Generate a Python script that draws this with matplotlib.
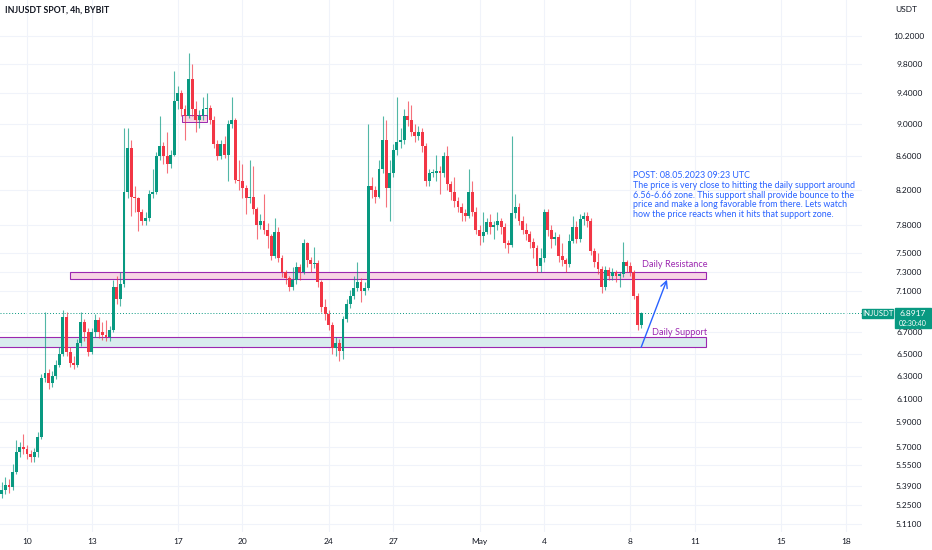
import numpy as np
import matplotlib
matplotlib.use("Agg")
from matplotlib import pyplot as plt
from matplotlib.patches import Rectangle

# 4h candles, first one on Apr 8 ~20:00; x measured in days from Apr 10 00:00
closes = [5.36, 5.40, 5.38, 5.50, 5.66, 5.70, 5.68, 5.64, 5.62, 5.66,
          5.78, 6.28, 6.33, 6.24, 6.30, 6.40, 6.50, 6.85, 6.52, 6.42,
          6.40, 6.60, 6.80, 6.70, 6.52, 6.70, 6.82, 6.70, 6.68, 6.66,
          6.72, 7.15, 7.02, 7.18, 8.18, 8.70, 8.12, 8.10, 7.95, 7.85,
          7.88, 8.15, 8.18, 8.60, 8.72, 8.60, 8.50, 8.62, 9.30, 9.40,
          9.20, 9.10, 9.60, 9.20, 9.05, 9.10, 9.20, 9.21, 9.05, 8.75,
          8.60, 8.75, 8.62, 9.00, 9.05, 8.32, 8.30, 8.22, 8.10, 8.12,
          7.98, 7.80, 7.85, 7.75, 7.68, 7.47, 7.72, 7.45, 7.30, 7.24,
          7.15, 7.22, 7.35, 7.30, 7.60, 7.42, 7.38, 7.39, 7.20, 6.95,
          6.88, 6.77, 6.55, 6.60, 6.53, 6.83, 6.98, 7.05, 7.14, 7.20,
          7.10, 7.14, 8.25, 8.20, 8.12, 8.45, 8.80, 8.22, 8.40, 8.68,
          8.78, 8.80, 9.10, 9.05, 8.90, 8.85, 8.90, 8.72, 8.30, 8.40,
          8.40, 8.42, 8.40, 8.60, 8.27, 8.17, 8.07, 8.00, 7.93, 7.90,
          8.18, 7.95, 7.75, 7.68, 7.72, 7.83, 7.78, 7.80, 7.85, 7.78,
          7.60, 7.58, 7.93, 8.00, 7.85, 7.75, 7.70, 7.62, 7.55, 7.36,
          7.45, 7.95, 7.75, 7.65, 7.67, 7.47, 7.42, 7.38, 7.63, 7.78,
          7.65, 7.87, 7.90, 7.85, 7.52, 7.40, 7.33, 7.15, 7.32, 7.26,
          7.30, 7.26, 7.28, 7.40, 7.36, 7.30, 7.05, 6.77, 6.89]
highs = [5.42, 5.46, 5.44, 5.56, 5.75, 5.74, 5.80, 5.71, 5.67, 5.69,
         5.82, 6.32, 6.90, 6.36, 6.34, 6.44, 6.56, 6.92, 6.90, 6.56,
         6.48, 6.64, 6.90, 6.83, 6.74, 6.74, 6.88, 6.85, 6.80, 6.82,
         6.76, 7.22, 7.26, 7.30, 8.95, 8.95, 8.80, 8.25, 8.12, 7.98,
         7.95, 8.20, 8.45, 8.65, 9.10, 8.78, 8.90, 8.68, 9.70, 9.50,
         9.45, 9.25, 9.95, 9.80, 9.30, 9.18, 9.35, 9.40, 9.25, 9.10,
         8.80, 8.80, 8.85, 9.05, 9.35, 9.08, 8.55, 8.50, 8.26, 8.55,
         8.48, 8.00, 7.92, 8.15, 7.82, 7.70, 7.88, 7.78, 7.48, 7.32,
         7.26, 7.35, 7.40, 7.38, 7.65, 7.62, 7.46, 7.56, 7.42, 7.22,
         7.02, 6.92, 6.80, 6.66, 6.64, 6.86, 7.02, 7.12, 7.26, 7.40,
         7.24, 7.20, 9.00, 8.35, 8.25, 8.55, 9.10, 9.05, 8.55, 8.75,
         9.35, 8.95, 9.20, 9.30, 9.25, 9.00, 8.98, 8.95, 8.76, 8.45,
         8.45, 8.62, 8.48, 8.65, 8.72, 8.30, 8.35, 8.12, 8.05, 7.98,
         8.45, 8.30, 8.00, 7.80, 7.95, 7.88, 7.92, 7.85, 7.95, 7.88,
         7.82, 7.64, 8.85, 8.15, 8.05, 7.90, 7.82, 7.74, 7.66, 7.58,
         7.55, 7.98, 7.98, 7.80, 7.72, 7.70, 7.60, 7.45, 7.70, 7.90,
         7.85, 7.92, 7.95, 7.95, 7.88, 7.55, 7.50, 7.36, 7.36, 7.35,
         7.34, 7.32, 7.30, 7.62, 7.42, 7.40, 7.32, 7.08, 6.90]
lows = [5.30, 5.33, 5.34, 5.36, 5.48, 5.62, 5.64, 5.60, 5.58, 5.58,
        5.62, 5.76, 6.25, 6.18, 6.20, 6.27, 6.38, 6.48, 6.48, 6.38,
        6.36, 6.38, 6.57, 6.62, 6.48, 6.50, 6.66, 6.65, 6.63, 6.62,
        6.62, 6.70, 6.98, 6.96, 7.15, 8.10, 7.90, 7.95, 7.74, 7.80,
        7.80, 7.85, 8.10, 8.15, 8.55, 8.50, 8.40, 8.46, 8.60, 9.20,
        9.10, 8.80, 9.08, 9.10, 8.90, 8.95, 9.05, 9.10, 9.00, 8.70,
        8.55, 8.56, 8.58, 8.30, 8.95, 8.28, 8.20, 8.10, 7.92, 8.05,
        7.92, 7.65, 7.76, 7.70, 7.55, 7.42, 7.45, 7.40, 7.25, 7.18,
        7.10, 7.12, 7.18, 7.22, 7.28, 7.35, 7.30, 7.34, 7.15, 6.90,
        6.82, 6.72, 6.50, 6.48, 6.43, 6.45, 6.80, 6.94, 7.02, 7.10,
        7.00, 7.06, 7.12, 8.10, 8.05, 8.10, 8.40, 8.00, 7.85, 8.35,
        8.62, 8.70, 8.75, 8.98, 8.85, 8.78, 8.80, 8.65, 8.25, 8.25,
        8.35, 8.30, 8.15, 8.35, 8.20, 8.08, 8.00, 7.95, 7.85, 7.85,
        7.88, 7.90, 7.70, 7.58, 7.62, 7.70, 7.70, 7.65, 7.75, 7.70,
        7.55, 7.50, 7.56, 7.88, 7.80, 7.70, 7.64, 7.55, 7.45, 7.30,
        7.30, 7.40, 7.68, 7.55, 7.58, 7.40, 7.36, 7.30, 7.35, 7.60,
        7.60, 7.62, 7.80, 7.78, 7.48, 7.35, 7.28, 7.08, 7.12, 7.22,
        7.22, 7.20, 7.15, 7.25, 7.30, 7.26, 7.02, 6.72, 6.74]
first_open = 5.33

tick_days = [0, 3, 7, 10, 14, 17, 21, 24, 28, 31, 35, 38]
tick_labels = ['10', '13', '17', '20', '24', '27', 'May', '4', '8', '11', '15', '18']
price_ticks = [10.2, 9.8, 9.4, 9.0, 8.6, 8.2, 7.8, 7.5, 7.3, 7.1, 6.7,
               6.5, 6.3, 6.1, 5.9, 5.7, 5.55, 5.39, 5.25, 5.11]

resistance = (7.23, 7.30)
support = (6.56, 6.66)
last_price = 6.8917

note = ("POST: 08.05.2023 09:23 UTC\n"
        "The price is very close to hitting the daily support around\n"
        "6.56-6.66 zone. This support shall provide bounce to the\n"
        "price and make a long favorable from there. Lets watch\n"
        "how the price reacts when it hits that support zone.")

GREEN = '#089981'
RED = '#f23645'
PURPLE = '#9c27b0'
BLUE = '#2962ff'

fig = plt.figure(figsize=(9.32, 5.5), dpi=100)
ax = fig.add_axes([0, 18 / 550, 862 / 932, 532 / 550])
ax.set_yscale('log')

n = len(closes)
x = (np.arange(n) - 7) / 6.0
opens = [first_open] + closes[:-1]
colors = [GREEN if c >= o else RED for o, c in zip(opens, closes)]

ax.vlines(x, lows, highs, colors=colors, linewidth=0.8, alpha=0.7, zorder=3)
bottoms = np.minimum(opens, closes)
heights = np.maximum(np.abs(np.array(closes) - np.array(opens)), 0.012)
ax.bar(x, heights, bottom=bottoms, width=0.135, color=colors, linewidth=0, zorder=4)

# zones
ax.add_patch(Rectangle((2.0, resistance[0]), 29.5, resistance[1] - resistance[0],
                       facecolor='#f8d4e4', edgecolor=PURPLE, linewidth=0.8, zorder=2))
ax.add_patch(Rectangle((-1.4, support[0]), 32.9, support[1] - support[0],
                       facecolor='#d9ecee', edgecolor=PURPLE, linewidth=0.8, zorder=2))
ax.add_patch(Rectangle((7.2, 9.03), 1.15, 0.09,
                       facecolor='#f8d4e4', edgecolor=PURPLE, linewidth=0.7, zorder=2))

ax.text(30.07, 7.38, 'Daily Resistance', color=PURPLE, fontsize=6.6,
        family='Lato', ha='center', va='center', zorder=6)
ax.text(30.3, 6.70, 'Daily Support', color=PURPLE, fontsize=6.6,
        family='Lato', ha='center', va='center', zorder=6)
ax.annotate('', xy=(29.7, 7.22), xytext=(28.5, 6.56),
            arrowprops=dict(arrowstyle='->', color=BLUE, lw=1.0,
                            mutation_scale=12, shrinkA=0, shrinkB=0), zorder=6)
ax.text(28.1, 8.42, note, color=BLUE, fontsize=6.4, family='Lato',
        ha='left', va='top', linespacing=1.1, zorder=6)

ax.axhline(last_price, color=GREEN, linestyle=(0, (1, 2)), linewidth=0.7, zorder=1)

ax.set_xlim(-1.253, 38.75)
ax.set_ylim(5.05, 10.73)
ax.set_xticks(tick_days)
ax.set_xticklabels(tick_labels)
ax.set_yticks(price_ticks)
ax.set_yticklabels([f'{p:.4f}' for p in price_ticks])
ax.yaxis.set_minor_locator(matplotlib.ticker.NullLocator())
ax.yaxis.tick_right()
ax.tick_params(axis='both', length=0, labelsize=6, labelcolor='#131722')
ax.tick_params(axis='y', pad=34)
ax.tick_params(axis='x', pad=4)
for lab in ax.get_yticklabels() + ax.get_xticklabels():
    lab.set_family('Lato')
for lab in ax.get_yticklabels():
    lab.set_horizontalalignment('center')
ax.grid(True, color='#f0f3fa', linewidth=0.8)
for s in ax.spines.values():
    s.set_visible(False)

fig.text(5 / 932, 1 - 10 / 550, 'INJUSDT SPOT, 4h, BYBIT', fontsize=6.3,
         family='Lato', weight='bold', color='#131722', va='center')
fig.text(906 / 932, 1 - 9 / 550, 'USDT', fontsize=6, family='Lato',
         color='#131722', ha='center', va='center')

# last price labels on the axis
fig.patches.append(Rectangle((862 / 932, 1 - 318 / 550), 31 / 932, 9 / 550,
                             transform=fig.transFigure, color=GREEN, figure=fig))
fig.patches.append(Rectangle((895 / 932, 1 - 328 / 550), 36 / 932, 20 / 550,
                             transform=fig.transFigure, color=GREEN, figure=fig))
fig.text(877.5 / 932, 1 - 313.5 / 550, 'INJUSDT', fontsize=5.5, family='Lato',
         color='white', ha='center', va='center')
fig.text(913 / 932, 1 - 313.5 / 550, f'{last_price:.4f}', fontsize=6, family='Lato',
         color='white', ha='center', va='center')
fig.text(913 / 932, 1 - 323 / 550, '02:30:40', fontsize=5, family='Lato',
         color='white', ha='center', va='center')

fig.savefig('out.png', dpi=100, facecolor='white')
